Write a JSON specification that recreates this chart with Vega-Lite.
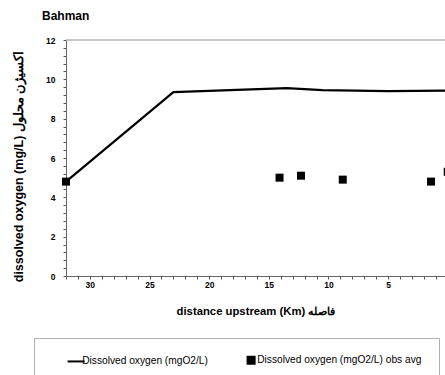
{
  "$schema": "https://vega.github.io/schema/vega-lite/v6.json",
  "autosize": {"type": "none"},
  "padding": {"left": 66, "top": 40, "right": 0, "bottom": 99},
  "width": 379,
  "height": 236,
  "background": "white",
  "title": {
    "text": "Bahman",
    "anchor": "start",
    "frame": "group",
    "dx": -24,
    "offset": 4,
    "baseline": "alphabetic",
    "fontSize": 12,
    "fontWeight": "bold",
    "color": "black"
  },
  "config": {
    "view": {"stroke": null},
    "font": "Liberation Sans, Arial, sans-serif",
    "axis": {
      "grid": false,
      "domainColor": "#666666",
      "domainWidth": 1,
      "tickColor": "#555555",
      "tickWidth": 1,
      "tickSize": 3,
      "tickCount": 200,
      "format": "d",
      "labelColor": "black",
      "labelFontWeight": "bold",
      "labelFontSize": 8.5,
      "labelOverlap": false,
      "labelFlush": false,
      "titleColor": "black",
      "titleFontWeight": "bold"
    }
  },
  "datasets": {
    "model": [
      {"km": 32, "do": 4.8, "series": "Dissolved oxygen (mgO2/L)"},
      {"km": 23, "do": 9.35, "series": "Dissolved oxygen (mgO2/L)"},
      {"km": 13.5, "do": 9.55, "series": "Dissolved oxygen (mgO2/L)"},
      {"km": 10.5, "do": 9.45, "series": "Dissolved oxygen (mgO2/L)"},
      {"km": 5, "do": 9.4, "series": "Dissolved oxygen (mgO2/L)"},
      {"km": 0, "do": 9.43, "series": "Dissolved oxygen (mgO2/L)"}
    ],
    "observed": [
      {"km": 32, "do": 4.8, "series": "Dissolved oxygen (mgO2/L) obs avg"},
      {"km": 14.1, "do": 5.0, "series": "Dissolved oxygen (mgO2/L) obs avg"},
      {"km": 12.3, "do": 5.1, "series": "Dissolved oxygen (mgO2/L) obs avg"},
      {"km": 8.8, "do": 4.9, "series": "Dissolved oxygen (mgO2/L) obs avg"},
      {"km": 1.4, "do": 4.8, "series": "Dissolved oxygen (mgO2/L) obs avg"},
      {"km": 0, "do": 5.3, "series": "Dissolved oxygen (mgO2/L) obs avg"}
    ]
  },
  "layer": [
    {
      "data": {"values": [{"top": 12}]},
      "mark": {"type": "rule", "color": "#b5b5b5", "strokeWidth": 1.5},
      "encoding": {"y": {"field": "top", "type": "quantitative", "scale": {"domain": [0, 12], "nice": false}}}
    },
    {
      "data": {"name": "model"},
      "mark": {"type": "line", "strokeWidth": 2.2},
      "encoding": {
        "x": {
          "field": "km",
          "type": "quantitative",
          "scale": {"domain": [32, 0.23], "nice": false, "zero": false},
          "axis": {
            "title": "distance upstream (Km) فاصله",
            "titleFontSize": 11.3,
            "titlePadding": 17,
            "labelPadding": 1,
            "values": [0, 1, 2, 3, 4, 5, 6, 7, 8, 9, 10, 11, 12, 13, 14, 15, 16, 17, 18, 19, 20, 21, 22, 23, 24, 25, 26, 27, 28, 29, 30, 31, 32],
            "labelExpr": "datum.value % 5 === 0 ? datum.label : ''",
            "encode": {
              "ticks": {
                "update": {
                  "y": {"value": -3.5},
                  "y2": {"condition": {"test": "datum.value % 5 === 0", "value": 3}, "value": 0}
                }
              }
            }
          }
        },
        "y": {
          "field": "do",
          "type": "quantitative",
          "scale": {"domain": [0, 12], "nice": false},
          "axis": {
            "title": "dissolved oxygen (mg/L) اکسیژن محلول",
            "titleFontSize": 12.5,
            "titlePadding": 20,
            "titleY": 126,
            "labelPadding": 8,
            "values": [0, 0.4, 0.8, 1.2, 1.6, 2, 2.4, 2.8, 3.2, 3.6, 4, 4.4, 4.8, 5.2, 5.6, 6, 6.4, 6.8, 7.2, 7.6, 8, 8.4, 8.8, 9.2, 9.6, 10, 10.4, 10.8, 11.2, 11.6, 12],
            "labelExpr": "abs(datum.value - round(datum.value / 2) * 2) < 0.01 ? datum.label : ''",
            "encode": {
              "ticks": {
                "update": {
                  "x": {"value": 3},
                  "x2": {"condition": {"test": "abs(datum.value - round(datum.value / 2) * 2) < 0.01", "value": -4}, "value": 0}
                }
              }
            }
          }
        },
        "color": {
          "field": "series",
          "type": "nominal",
          "scale": {
            "domain": ["Dissolved oxygen (mgO2/L)", "Dissolved oxygen (mgO2/L) obs avg"],
            "range": ["black", "black"]
          },
          "legend": {
            "title": null,
            "orient": "none",
            "legendX": -32,
            "legendY": 298,
            "direction": "horizontal",
            "columns": 2,
            "strokeColor": "#b0b0b0",
            "padding": 17,
            "symbolOffset": 20,
            "labelOffset": 1,
            "columnPadding": 18,
            "labelFontSize": 10.2,
            "labelColor": "black",
            "labelLimit": 400,
            "symbolSize": 289,
            "symbolStrokeWidth": 2,
            "encode": {
              "symbols": {
                "update": {
                  "shape": {"signal": "datum.value === 'Dissolved oxygen (mgO2/L)' ? 'stroke' : 'square'"},
                  "size": {"signal": "datum.value === 'Dissolved oxygen (mgO2/L)' ? 289 : 50"},
                  "fill": {"signal": "datum.value === 'Dissolved oxygen (mgO2/L)' ? 'transparent' : 'black'"},
                  "stroke": {"signal": "datum.value === 'Dissolved oxygen (mgO2/L)' ? 'black' : 'transparent'"},
                  "strokeWidth": {"value": 2},
                  "opacity": {"value": 1}
                }
              }
            }
          }
        }
      }
    },
    {
      "data": {"name": "observed"},
      "mark": {"type": "square", "size": 64, "filled": true, "opacity": 1},
      "encoding": {
        "x": {"field": "km", "type": "quantitative"},
        "y": {"field": "do", "type": "quantitative"},
        "color": {"field": "series", "type": "nominal"}
      }
    }
  ]
}
